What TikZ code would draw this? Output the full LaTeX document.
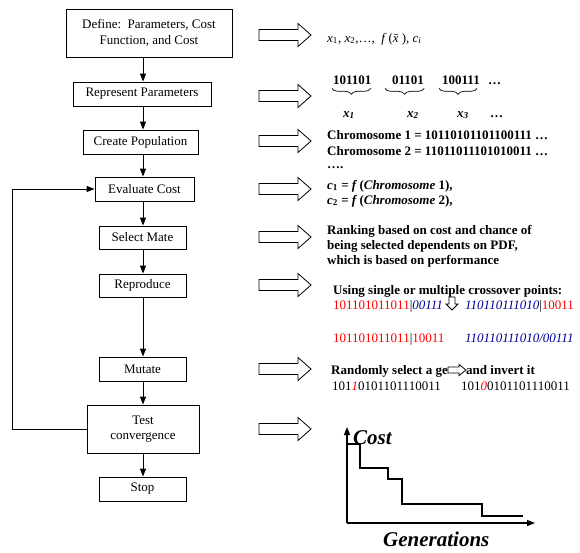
\documentclass[tikz,border=0pt]{standalone}
\usepackage{fontspec}
\setmainfont{Liberation Serif}
\usetikzlibrary{arrows.meta,decorations.pathreplacing}
\definecolor{navy}{RGB}{0,0,150}
\tikzset{
  pics/bigarrow/.style={code={
    \draw[fill=white,line width=0.8pt] (0,-5.5) -- (39,-5.5) -- (39,-11.5) -- (52,0) -- (39,11.5) -- (39,5.5) -- (0,5.5) -- cycle;}},
  pics/smallright/.style={code={
    \draw[fill=white,line width=0.8pt] (0,-3) -- (11,-3) -- (11,-5.5) -- (18,0) -- (11,5.5) -- (11,3) -- (0,3) -- cycle;}},
  pics/smalldown/.style={code={
    \draw[fill=white,line width=0.8pt] (-3,0) -- (-3,7) -- (-6,7) -- (0,13) -- (6,7) -- (3,7) -- (3,0) -- cycle;}}
}
\begin{document}
\begin{tikzpicture}[x=1pt,y=-1pt,
  every node/.style={font=\fontsize{13}{15.5}\selectfont, inner sep=0pt},
  box/.style={draw, line width=0.9pt, align=center},
  arr/.style={line width=0.9pt, -{Triangle[length=8pt,width=6pt]}},
  txt/.style={anchor=base west, font=\fontsize{13}{15.5}\selectfont\bfseries},
  plain/.style={anchor=base west, font=\fontsize{13}{15.5}\selectfont},
  brc/.style={decorate, decoration={brace, amplitude=6pt, mirror}, line width=0.7pt},
  axis/.style={line width=1.4pt, -{Triangle[length=8pt,width=6pt]}},
  big/.style={anchor=base west, font=\fontsize{21}{24}\selectfont\bfseries\itshape}
]
\useasboundingbox (0,0) rectangle (580,552);

% left flow chart
\coordinate (ax) at (143,0);
\node[box, minimum width=166pt, minimum height=48pt] (define) at (149,33) {Define:\ \ Parameters, Cost\\Function, and Cost};
\node[box, minimum width=138pt, minimum height=24pt] (repr) at (142,94) {Represent Parameters};
\node[box, minimum width=115pt, minimum height=24pt] (create) at (140.5,142) {Create Population};
\node[box, minimum width=99pt, minimum height=24pt] (eval) at (144.5,189) {Evaluate Cost};
\node[box, minimum width=87pt, minimum height=23pt] (select) at (142.5,237.5) {Select Mate};
\node[box, minimum width=87pt, minimum height=23pt] (repro) at (142.5,285.5) {Reproduce};
\node[box, minimum width=87pt, minimum height=24pt] (mutate) at (142.5,369) {Mutate};
\node[box, minimum width=112pt, minimum height=48pt] (test) at (143,429) {Test\\convergence};
\node[box, minimum width=87pt, minimum height=24pt] (stop) at (142.5,489) {Stop};

\draw[arr] (define.south -| ax) -- (repr.north -| ax);
\draw[arr] (repr.south -| ax) -- (create.north -| ax);
\draw[arr] (create.south -| ax) -- (eval.north -| ax);
\draw[arr] (eval.south -| ax) -- (select.north -| ax);
\draw[arr] (select.south -| ax) -- (repro.north -| ax);
\draw[arr] (repro.south -| ax) -- (mutate.north -| ax);
\draw[arr] (mutate.south -| ax) -- (test.north -| ax);
\draw[arr] (test.south -| ax) -- (stop.north -| ax);
\coordinate (lp) at (12,0);
\draw[arr] (test.west) -- (test.west -| lp) -- (eval.west -| lp) -- (eval.west);

% block arrows
\pic at (259,35) {bigarrow};
\pic at (259,96) {bigarrow};
\pic at (259,141) {bigarrow};
\pic at (259,189) {bigarrow};
\pic at (259,237) {bigarrow};
\pic at (259,285) {bigarrow};
\pic at (259,369) {bigarrow};
\pic at (259,429) {bigarrow};

% row 1
\node[plain] (r1) at (327,42) {\textit{x}\textsubscript{1}, \textit{x}\textsubscript{2},…,\ \ \textit{f}\,(\textit{\={x}}), \textit{c}\textsubscript{\textit{i}}};

% row 2
\node[txt] (b1) at (333,84.5) {101101};
\node[txt] (b2) at (392,84.5) {01101};
\node[txt] (b3) at (442,84.5) {100111};
\node[txt] (bd) at (488,84.5) {…};
\draw[brc] ([yshift=-3.5pt,xshift=-1pt]b1.south west) -- ([yshift=-3.5pt,xshift=-1pt]b1.south east);
\draw[brc] ([yshift=-3.5pt,xshift=-7pt]b2.south west) -- ([yshift=-3.5pt]b2.south east);
\draw[brc] ([yshift=-3.5pt,xshift=-3pt]b3.south west) -- ([yshift=-3.5pt,xshift=-3pt]b3.south east);
\node[txt, font=\fontsize{13}{15.5}\selectfont\bfseries\itshape] (l1) at (343,117) {x\textsubscript{1}};
\node[txt, font=\fontsize{13}{15.5}\selectfont\bfseries\itshape] (l2) at (407,117) {x\textsubscript{2}};
\node[txt, font=\fontsize{13}{15.5}\selectfont\bfseries\itshape] (l3) at (457,117) {x\textsubscript{3}};
\node[txt] (ld) at (490,117) {…};

% row 3
\node[txt] (ch1) at (327,139.5) {Chromosome 1 = 10110101101100111 …};
\node[txt] (ch2) at (327,155) {Chromosome 2 = 11011011101010011 …};
\node[txt] (chd) at (327,168) {….};

% row 4
\node[txt] (c1) at (327,189) {\textit{c}\textsubscript{1} = \textit{f}\,(\textit{Chromosome} 1),};
\node[txt] (c2) at (327,204) {\textit{c}\textsubscript{2} = \textit{f}\,(\textit{Chromosome} 2),};

% row 5
\node[txt] (k1) at (327,234) {Ranking based on cost and chance of};
\node[txt] (k2) at (327,249) {being selected dependents on PDF,};
\node[txt] (k3) at (327,264) {which is based on performance};

% row 6
\node[txt] (u1) at (333,294) {Using single or multiple crossover points:};
\node[plain] (p1) at (333,309) {\textcolor{red}{101101011011}|\textcolor{navy}{\itshape 00111}};
\pic at (452,297) {smalldown};
\node[plain] (p2) at (465,309) {\textcolor{navy}{\itshape 110110111010}|\textcolor{red}{10011}};
\node[plain] (q1) at (333,342) {\textcolor{red}{101101011011}|\textcolor{red}{10011}};
\node[plain] (q2) at (465,342) {\textcolor{navy}{\itshape 110110111010/00111}};

% row 7
\node[txt] (m1) at (331,374) {Randomly select a ge};
\pic at ([yshift=4pt]m1.base east) {smallright};
\node[txt] (m2) at ([xshift=18pt]m1.base east) {and invert it};
\node[plain] (m3) at (332,390) {101\textcolor{red}{\itshape 1}0101101110011};
\node[plain] (m4) at (461,390) {101\textcolor{red}{\itshape 0}0101101110011};

% graph
\coordinate (o) at (347,523);
\coordinate (ytip) at (347,427);
\coordinate (xtip) at (535,523);
\draw[axis] (o) -- (ytip);
\draw[axis] (o) -- (xtip);
\draw[line width=1.6pt] (347,444) -- (360,444) -- (360,468) -- (388,468) -- (388,479) -- (402,479) -- (402,504) -- (482,504) -- (482,516) -- (523,516);
\node[big] (cost) at (353,444) {Cost};
\node[big] (gen) at (383,546) {Generations};
\end{tikzpicture}
\end{document}
